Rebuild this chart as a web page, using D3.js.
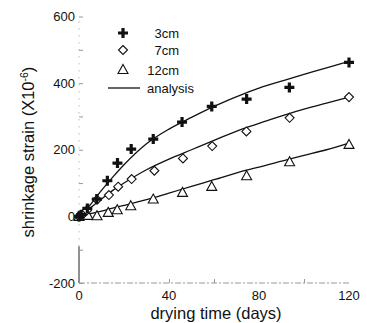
<!DOCTYPE html>
<html>
<head>
<meta charset="utf-8">
<script src="https://cdn.jsdelivr.net/npm/d3@7"></script>
<style>
  body { margin: 0; background: #fff; }
  text { font-family: "Liberation Sans", Arial, sans-serif; fill: #111; }
</style>
</head>
<body>
<svg id="plot"></svg>
<script>
// measured points (days, strain x10^-6)
const days3 = [0, 1, 3.7, 7.9, 12.6, 17.1, 23.2, 33, 45.8, 59, 74.5, 93.5, 120];
const strain3 = [0, 5, 24, 52, 107, 160, 202, 232, 283, 330, 352, 387, 462];
const days7 = [0, 1.5, 3.5, 8, 13.3, 17.4, 23.4, 33.5, 46.2, 59.2, 74.4, 93.6, 120];
const strain7 = [0, 5, 18, 50, 64, 89, 112, 137, 174, 211, 255, 296, 358];
const days12 = [0, 4, 8, 13, 17, 23, 33, 46, 59, 74.5, 93.6, 120];
const strain12 = [0, 3, 2, 12, 20, 32, 52, 72, 90, 122, 164, 216];

// analysis curves
const fitDays = [0, 5, 10, 15, 20, 30, 40, 50, 60, 74, 80, 93, 100, 110, 120];
const fit3 = [0, 35, 78, 118, 155, 218, 262, 297, 330, 370, 385, 412, 426, 446, 465];
const fit7 = [0, 25, 52, 78, 100, 140, 172, 200, 228, 266, 279, 308, 322, 340, 358];
const fit12 = [0, 8, 16, 25, 33, 50, 70, 90, 110, 138, 148, 171, 183, 200, 220];

const xTicks = [0, 40, 80, 120];
const yTicks = [-200, 0, 200, 400, 600];
const legendLabels = ["3cm", "7cm", "12cm", "analysis"];

const W = 367, H = 323;

const svg = d3.select("#plot").attr("width", W).attr("height", H);

const x = d3.scaleLinear().domain([0, 120]).range([79, 349]);
const y = d3.scaleLinear().domain([-200, 600]).range([283, 16.5]);

// left axis: solid lower part, faint dotted upper part
svg.append("line")
    .attr("x1", x(0)).attr("x2", x(0))
    .attr("y1", y(-200)).attr("y2", y(-90))
    .attr("stroke", "#222").attr("stroke-width", 1);
svg.append("line")
    .attr("x1", x(0)).attr("x2", x(0))
    .attr("y1", y(-90)).attr("y2", y(600))
    .attr("stroke", "#999").attr("stroke-width", 1)
    .attr("stroke-dasharray", "1,6");
// bottom axis, faint dotted
svg.append("line")
    .attr("x1", x(0)).attr("x2", x(120))
    .attr("y1", y(-200)).attr("y2", y(-200))
    .attr("stroke", "#999").attr("stroke-width", 1)
    .attr("stroke-dasharray", "6,2,2,2");

// y axis ticks + labels
const yAxis = svg.append("g")
    .attr("transform", `translate(${x(0)},0)`)
    .call(d3.axisRight(y).tickValues(d3.range(-200, 601, 100)).tickSize(4).tickFormat(""));
yAxis.select(".domain").remove();
yAxis.selectAll(".tick line").attr("stroke", "#999");

svg.selectAll(".ylab").data(yTicks).join("text")
    .attr("class", "ylab")
    .attr("x", x(0) - 4)
    .attr("y", d => y(d) + 4.5)
    .attr("text-anchor", "end")
    .attr("font-size", 13)
    .text(d => d);

// x axis ticks + labels
const xAxis = svg.append("g")
    .attr("transform", `translate(0,${y(-200)})`)
    .call(d3.axisTop(x).tickValues([40, 60, 100]).tickSize(4).tickFormat(""));
xAxis.select(".domain").remove();
xAxis.selectAll(".tick line").attr("stroke", "#999");

svg.selectAll(".xlab").data(xTicks).join("text")
    .attr("class", "xlab")
    .attr("x", d => x(d))
    .attr("y", y(-200) + 17)
    .attr("text-anchor", "middle")
    .attr("font-size", 13)
    .text(d => d);

// axis titles
svg.append("text")
    .attr("x", 216).attr("y", 318.5)
    .attr("text-anchor", "middle")
    .attr("font-size", 16.5)
    .text("drying time (days)");

const yt = svg.append("text")
    .attr("transform", "translate(34,152) rotate(-90)")
    .attr("text-anchor", "middle")
    .attr("font-size", 16.5);
yt.append("tspan").text("shrinkage strain (X10");
yt.append("tspan").attr("font-size", 10.5).attr("dy", -6).text("-6");
yt.append("tspan").attr("dy", 6).text(")");

// analysis lines
const line = d3.line().curve(d3.curveMonotoneX).x(d => x(d[0])).y(d => y(d[1]));
[fit3, fit7, fit12].forEach(f => {
  svg.append("path")
      .datum(fitDays.map((d, i) => [d, f[i]]))
      .attr("d", line)
      .attr("fill", "none")
      .attr("stroke", "#111")
      .attr("stroke-width", 1.3);
});

// markers
const diamondPath = "M0,-4.5L4.5,0L0,4.5L-4.5,0Z";
const triPath = "M0,-5L5,4L-5,4Z";

function drawPlus(g, px, py) {
  g.append("path").attr("d", "M-5,0H5M0,-5V5")
      .attr("transform", `translate(${px},${py})`)
      .attr("stroke", "#111").attr("stroke-width", 3.2).attr("fill", "none");
}
function drawDiamond(g, px, py) {
  g.append("path").attr("d", diamondPath)
      .attr("transform", `translate(${px},${py})`)
      .attr("stroke", "#111").attr("stroke-width", 1.1).attr("fill", "#fff");
}
function drawTri(g, px, py) {
  g.append("path").attr("d", triPath)
      .attr("transform", `translate(${px},${py})`)
      .attr("stroke", "#111").attr("stroke-width", 1.1).attr("fill", "#fff");
}

const pts = svg.append("g");
days12.forEach((d, i) => drawTri(pts, x(d), y(strain12[i])));
days7.forEach((d, i) => drawDiamond(pts, x(d), y(strain7[i])));
days3.forEach((d, i) => drawPlus(pts, x(d), y(strain3[i])));

// legend
const lg = svg.append("g");
drawPlus(lg, 123, 33);
drawDiamond(lg, 123, 50);
drawTri(lg, 123, 69.5);
lg.append("line").attr("x1", 108).attr("x2", 140).attr("y1", 88).attr("y2", 88)
    .attr("stroke", "#111").attr("stroke-width", 1.3);
const lgY = [33, 50, 70];
legendLabels.slice(0, 3).forEach((t, i) => {
  lg.append("text").attr("x", 179).attr("y", lgY[i] + 4.5)
      .attr("text-anchor", "end").attr("font-size", 13).text(t);
});
lg.append("text").attr("x", 147).attr("y", 92.5)
    .attr("font-size", 13).text(legendLabels[3]);
</script>
</body>
</html>
